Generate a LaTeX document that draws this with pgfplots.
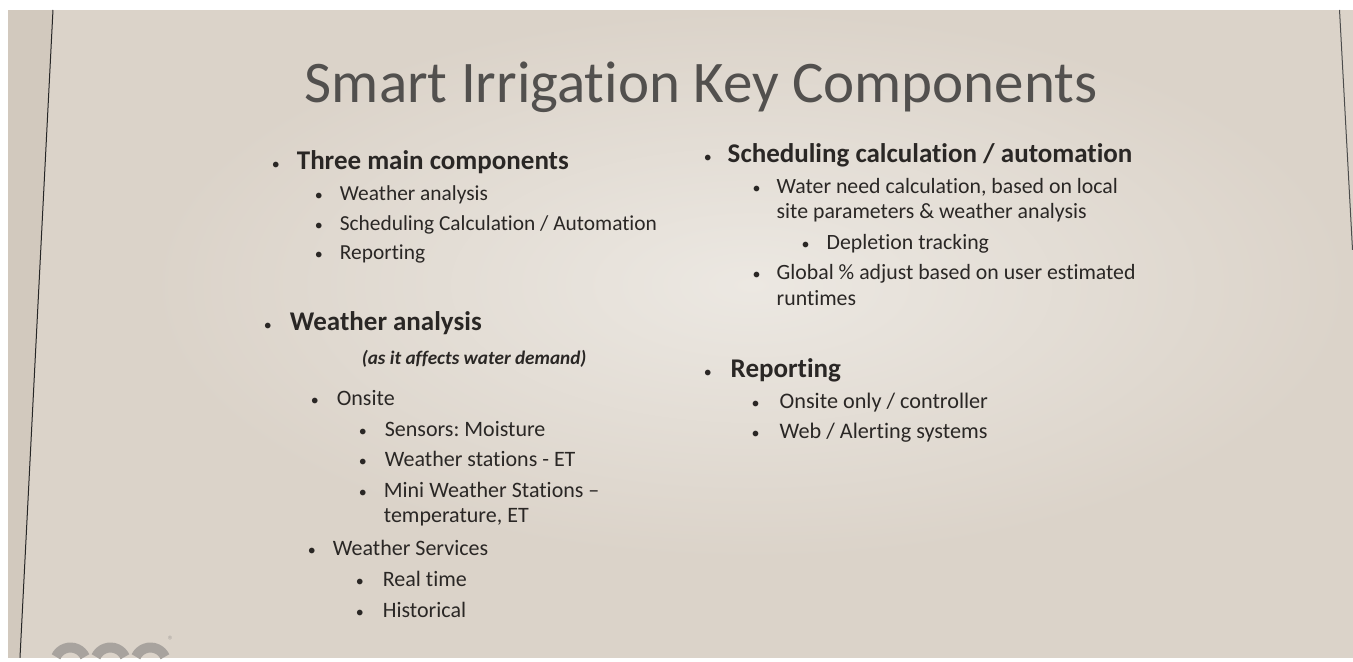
\documentclass[border=0pt]{standalone}
\usepackage{fontspec}
\setmainfont{Carlito}[Ligatures=NoCommon]
\usepackage{pgfplots}
\pgfplotsset{compat=1.18}
\frenchspacing
\definecolor{bg}{RGB}{219,211,201}
\definecolor{bgdark}{RGB}{210,201,190}
\definecolor{bglight}{RGB}{236,232,226}
\definecolor{txt}{RGB}{42,39,37}
\definecolor{titlecol}{RGB}{82,80,78}
\definecolor{logo}{RGB}{168,163,158}
\newcommand\hd{\fontsize{13.5}{15}\selectfont\bfseries}
\newcommand\subA{\fontsize{10.7}{12}\selectfont}
\newcommand\subB{\fontsize{11}{12}\selectfont}
\newcommand\subR{\fontsize{10.9}{12}\selectfont}
\newcommand\subS{\fontsize{11.1}{12}\selectfont}
\newcommand\bul{\fontsize{8}{8}\selectfont\textbullet}
\tikzset{t/.style={inner sep=0pt,outer sep=0pt,text=txt,anchor=base west},
         b/.style={inner sep=0pt,outer sep=0pt,text=txt,anchor=base}}
\begin{document}
\begin{tikzpicture}
\begin{axis}[at={(0,0)},anchor=south west,
  width=676.5pt,height=329pt,scale only axis,hide axis,
  xmin=0,xmax=1353,ymin=0,ymax=658,y dir=reverse,clip=false]
% background
\fill[bg] (axis cs:0,0) rectangle (axis cs:1353,658);
\shade[inner color=bglight,outer color=bg] (axis cs:150,10) rectangle (axis cs:1353,560);
\fill[bgdark] (axis cs:0,0) -- (axis cs:53,10) -- (axis cs:20,658) -- (axis cs:0,658) -- cycle;
\fill[white] (axis cs:0,0) rectangle (axis cs:1353,10);
\fill[white] (axis cs:0,0) rectangle (axis cs:8,658);
% slide borders
\addplot[black!85,line width=0.5pt] coordinates {(53,10) (20,658)};
\addplot[black!70,line width=0.5pt] coordinates {(1340,10) (1353,250)};
% title
\node[t,text=titlecol,font=\fontsize{29.5}{32}\selectfont] at (axis cs:305,103) {Smart Irrigation Key Components};
% left column
\node[b] at (axis cs:276,170) {\bul};
\node[t,font=\hd] at (axis cs:297,170) {Three main components};
\node[b] at (axis cs:319,201) {\bul};
\node[t,font=\subA] at (axis cs:340,201) {Weather analysis};
\node[b] at (axis cs:319,231) {\bul};
\node[t,font=\subA] at (axis cs:340,231) {Scheduling Calculation / Automation};
\node[b] at (axis cs:319,260) {\bul};
\node[t,font=\subA] at (axis cs:340,260) {Reporting};
\node[b] at (axis cs:268,331) {\bul};
\node[t,font=\hd] at (axis cs:290,331) {Weather analysis};
\node[t,font=\fontsize{9.6}{11}\selectfont\bfseries\itshape] at (axis cs:362,365) {(as it affects water demand)};
\node[b] at (axis cs:315,406) {\bul};
\node[t,font=\subB] at (axis cs:337,406) {Onsite};
\node[b] at (axis cs:363,437) {\bul};
\node[t,font=\subB] at (axis cs:385,437) {Sensors: Moisture};
\node[b] at (axis cs:363,467) {\bul};
\node[t,font=\subB] at (axis cs:385,467) {Weather stations - ET};
\node[b] at (axis cs:363,498) {\bul};
\node[t,font=\subB] at (axis cs:384,498) {Mini Weather Stations –};
\node[t,font=\subB] at (axis cs:384,523) {temperature, ET};
\node[b] at (axis cs:312,556) {\bul};
\node[t,font=\subB] at (axis cs:333,556) {Weather Services};
\node[b] at (axis cs:360,587) {\bul};
\node[t,font=\subB] at (axis cs:383,587) {Real time};
\node[b] at (axis cs:360,618) {\bul};
\node[t,font=\subB] at (axis cs:383,618) {Historical};
% right column
\node[b] at (axis cs:708,163) {\bul};
\node[t,font=\hd] at (axis cs:728,163) {Scheduling calculation / automation};
\node[b] at (axis cs:757,194) {\bul};
\node[t,font=\subR] at (axis cs:777,194) {Water need calculation, based on local};
\node[t,font=\subR] at (axis cs:777,219) {site parameters \& weather analysis};
\node[b] at (axis cs:806,250) {\bul};
\node[t,font=\subR] at (axis cs:827,250) {Depletion tracking};
\node[b] at (axis cs:757,280) {\bul};
\node[t,font=\subR] at (axis cs:777,280) {Global \% adjust based on user estimated};
\node[t,font=\subR] at (axis cs:777,306) {runtimes};
\node[b] at (axis cs:708,378) {\bul};
\node[t,font=\hd] at (axis cs:731,378) {Reporting};
\node[b] at (axis cs:756,409) {\bul};
\node[t,font=\subS] at (axis cs:780,409) {Onsite only / controller};
\node[b] at (axis cs:756,439) {\bul};
\node[t,font=\subS] at (axis cs:780,439) {Web / Alerting systems};
% logo (partly visible at the bottom edge)
\draw[logo,line width=5pt] (axis cs:56,657) arc[start angle=155,end angle=25,radius=8pt];
\draw[logo,line width=5pt] (axis cs:96,657) arc[start angle=155,end angle=25,radius=8pt];
\draw[logo,line width=5pt] (axis cs:136,657) arc[start angle=155,end angle=25,radius=8pt];
\node[t,text=logo,font=\fontsize{6}{6}\selectfont] at (axis cs:168,645) {®};
\end{axis}
\end{tikzpicture}
\end{document}
